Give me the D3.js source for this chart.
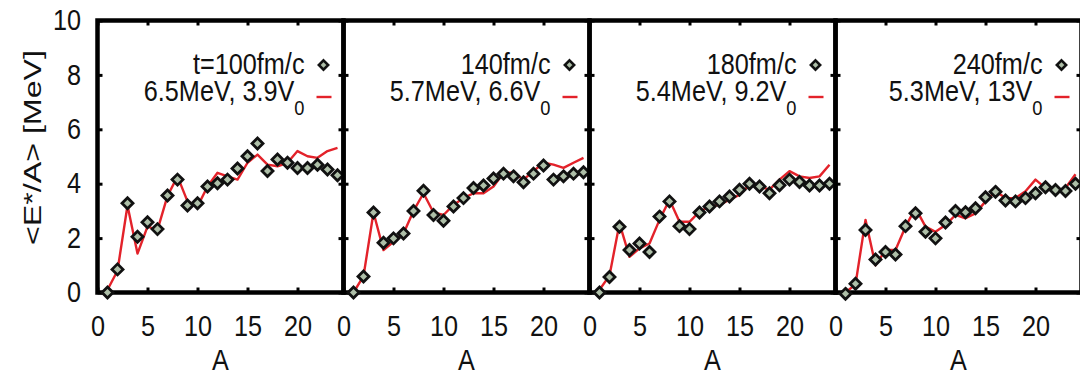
<!DOCTYPE html>
<html><head><meta charset="utf-8">
<script src="https://cdn.jsdelivr.net/npm/d3@7"></script>
<style>
html,body{margin:0;padding:0;background:#fff;}
svg{display:block;font-family:"Liberation Sans",Arial,sans-serif;}
</style></head>
<body>
<svg id="c" width="1080" height="373"></svg>
<script>
const massNumbers = d3.range(1, 25);
const timeLabels = ["t=100fm/c", "140fm/c", "180fm/c", "240fm/c"];
const fitLabels = ["6.5MeV, 3.9V", "5.7MeV, 6.6V", "5.4MeV, 9.2V", "5.3MeV, 13V"];
const xTicks = [0, 5, 10, 15, 20];
const yTicks = [0, 2, 4, 6, 8, 10];

const sim100 = [0, 0.85, 3.28, 2.05, 2.58, 2.33, 3.57, 4.15, 3.2, 3.28, 3.9, 4.02, 4.15, 4.56, 5.01, 5.48, 4.47, 4.89, 4.77, 4.58, 4.58, 4.7, 4.52, 4.31];
const fit100 = [0.1, 0.8, 3.2, 1.43, 2.42, 2.3, 3.55, 4.27, 3.35, 3.16, 3.9, 4.4, 4.27, 4.15, 4.77, 5.07, 4.7, 4.64, 4.77, 5.2, 5.01, 4.95, 5.2, 5.32];
const sim140 = [0, 0.59, 2.94, 1.83, 1.99, 2.17, 3.0, 3.74, 2.85, 2.64, 3.16, 3.47, 3.84, 3.93, 4.19, 4.37, 4.27, 4.05, 4.37, 4.67, 4.15, 4.27, 4.37, 4.42];
const fit140 = [0, 0.6, 2.94, 1.56, 1.86, 2.17, 3.0, 3.65, 2.94, 2.85, 3.22, 3.47, 3.65, 3.65, 3.9, 4.4, 4.4, 4.15, 4.46, 4.77, 4.7, 4.58, 4.77, 4.95];
const sim180 = [0, 0.57, 2.42, 1.56, 1.8, 1.49, 2.79, 3.35, 2.44, 2.33, 2.94, 3.16, 3.35, 3.53, 3.78, 4.0, 3.9, 3.65, 3.94, 4.15, 4.06, 3.93, 3.93, 4.0];
const fit180 = [0.1, 0.62, 2.54, 1.31, 1.62, 1.8, 2.67, 3.41, 2.6, 2.6, 2.97, 3.16, 3.22, 3.41, 3.59, 3.96, 3.9, 3.78, 4.15, 4.46, 4.27, 4.21, 4.27, 4.7];
const sim240 = [-0.05, 0.32, 2.3, 1.21, 1.49, 1.4, 2.44, 2.91, 2.23, 1.99, 2.57, 3.0, 2.95, 3.1, 3.5, 3.7, 3.38, 3.35, 3.47, 3.65, 3.87, 3.77, 3.73, 4.0];
const fit240 = [0, 0.3, 2.67, 1.0, 1.56, 1.56, 2.42, 3.1, 2.42, 2.23, 2.48, 2.85, 2.73, 2.91, 3.35, 3.72, 3.47, 3.47, 3.72, 4.15, 3.84, 3.75, 3.84, 4.35];

const simSeries = [sim100, sim140, sim180, sim240];
const fitSeries = [fit100, fit140, fit180, fit240];

const svg = d3.select("#c");
const panelW = 246, left0 = 97.5, plotTop = 20.5, plotBottom = 292.5;
const y = d3.scaleLinear().domain([0, 10]).range([plotBottom, plotTop]);
const RED = "#e3222a";
const FS = 29, SX = 0.87;
const diamond = "M0,-5.5L5.5,0L0,5.5L-5.5,0Z";
const PFILL = "#aebfa8";

for (let i = 0; i < 4; i++) {
  const x0 = left0 + i * panelW;
  const x = d3.scaleLinear().domain([0, 24.6]).range([x0, x0 + panelW]);
  const g = svg.append("g");

  const ax = g.append("g").attr("transform", `translate(0,${plotBottom})`)
    .call(d3.axisBottom(x).tickValues(xTicks).tickSize(-5).tickSizeOuter(0).tickPadding(23));
  const axT = g.append("g").attr("transform", `translate(0,${plotTop})`)
    .call(d3.axisTop(x).tickValues(xTicks).tickSize(-5).tickSizeOuter(0).tickFormat(""));
  const ayL = g.append("g").attr("transform", `translate(${x0},0)`)
    .call(d3.axisLeft(y).tickValues(yTicks).tickSize(-5).tickSizeOuter(0).tickPadding(19)
      .tickFormat(i === 0 ? d3.format("d") : ""));
  const ayR = g.append("g").attr("transform", `translate(${x0 + panelW},0)`)
    .call(d3.axisRight(y).tickValues(yTicks).tickSize(-5).tickSizeOuter(0).tickFormat(""));
  [ax, axT, ayL, ayR].forEach(a => {
    a.select(".domain").remove();
    a.selectAll("line").attr("stroke", "#000").attr("stroke-width", 3);
    a.selectAll("text").attr("font-size", FS).attr("fill", "#111")
      .attr("font-family", '"Liberation Sans",Arial,sans-serif')
      .attr("transform", `scale(${SX},1)`);
  });

  g.append("rect").attr("x", x0).attr("y", plotTop).attr("width", panelW).attr("height", plotBottom - plotTop)
    .attr("fill", "none").attr("stroke", "#000").attr("stroke-width", 4.5);

  g.append("text").attr("transform", `translate(${x0 + panelW / 2},370) scale(${SX},1)`)
    .attr("text-anchor", "middle").attr("font-size", FS).attr("fill", "#111").text("A");

  const line = d3.line().x((d, k) => x(massNumbers[k])).y(d => y(d));
  g.append("path").datum(fitSeries[i]).attr("d", line)
    .attr("fill", "none").attr("stroke", RED).attr("stroke-width", 2.4).attr("stroke-linejoin", "round");

  g.selectAll("path.pt").data(simSeries[i]).join("path").attr("class", "pt")
    .attr("d", diamond)
    .attr("transform", (d, k) => `translate(${x(massNumbers[k])},${y(d)})`)
    .attr("fill", PFILL).attr("stroke", "#111").attr("stroke-width", 2.8);

  const tr = x0 + 207;
  g.append("text").attr("transform", `translate(${tr},74) scale(${SX},1)`)
    .attr("text-anchor", "end").attr("font-size", FS).attr("fill", "#111").text(timeLabels[i]);
  const t2 = g.append("text").attr("transform", `translate(${tr},101) scale(${SX},1)`)
    .attr("text-anchor", "end").attr("font-size", FS).attr("fill", "#111");
  t2.append("tspan").text(fitLabels[i]);
  t2.append("tspan").attr("font-size", 21).attr("dy", 14).text("0");
  g.append("path").attr("d", diamond).attr("transform", `translate(${x0 + 226},65) scale(0.85)`)
    .attr("fill", PFILL).attr("stroke", "#111").attr("stroke-width", 3);
  g.append("line").attr("x1", x0 + 219).attr("x2", x0 + 234).attr("y1", 97).attr("y2", 97)
    .attr("stroke", RED).attr("stroke-width", 2.4);
}

svg.append("text").attr("transform", "translate(41,147.5) rotate(-90)")
  .attr("text-anchor", "middle").attr("font-size", 23).attr("fill", "#111")
  .attr("textLength", 195).attr("lengthAdjust", "spacingAndGlyphs")
  .text("<E*/A> [MeV]");
</script>
</body></html>
